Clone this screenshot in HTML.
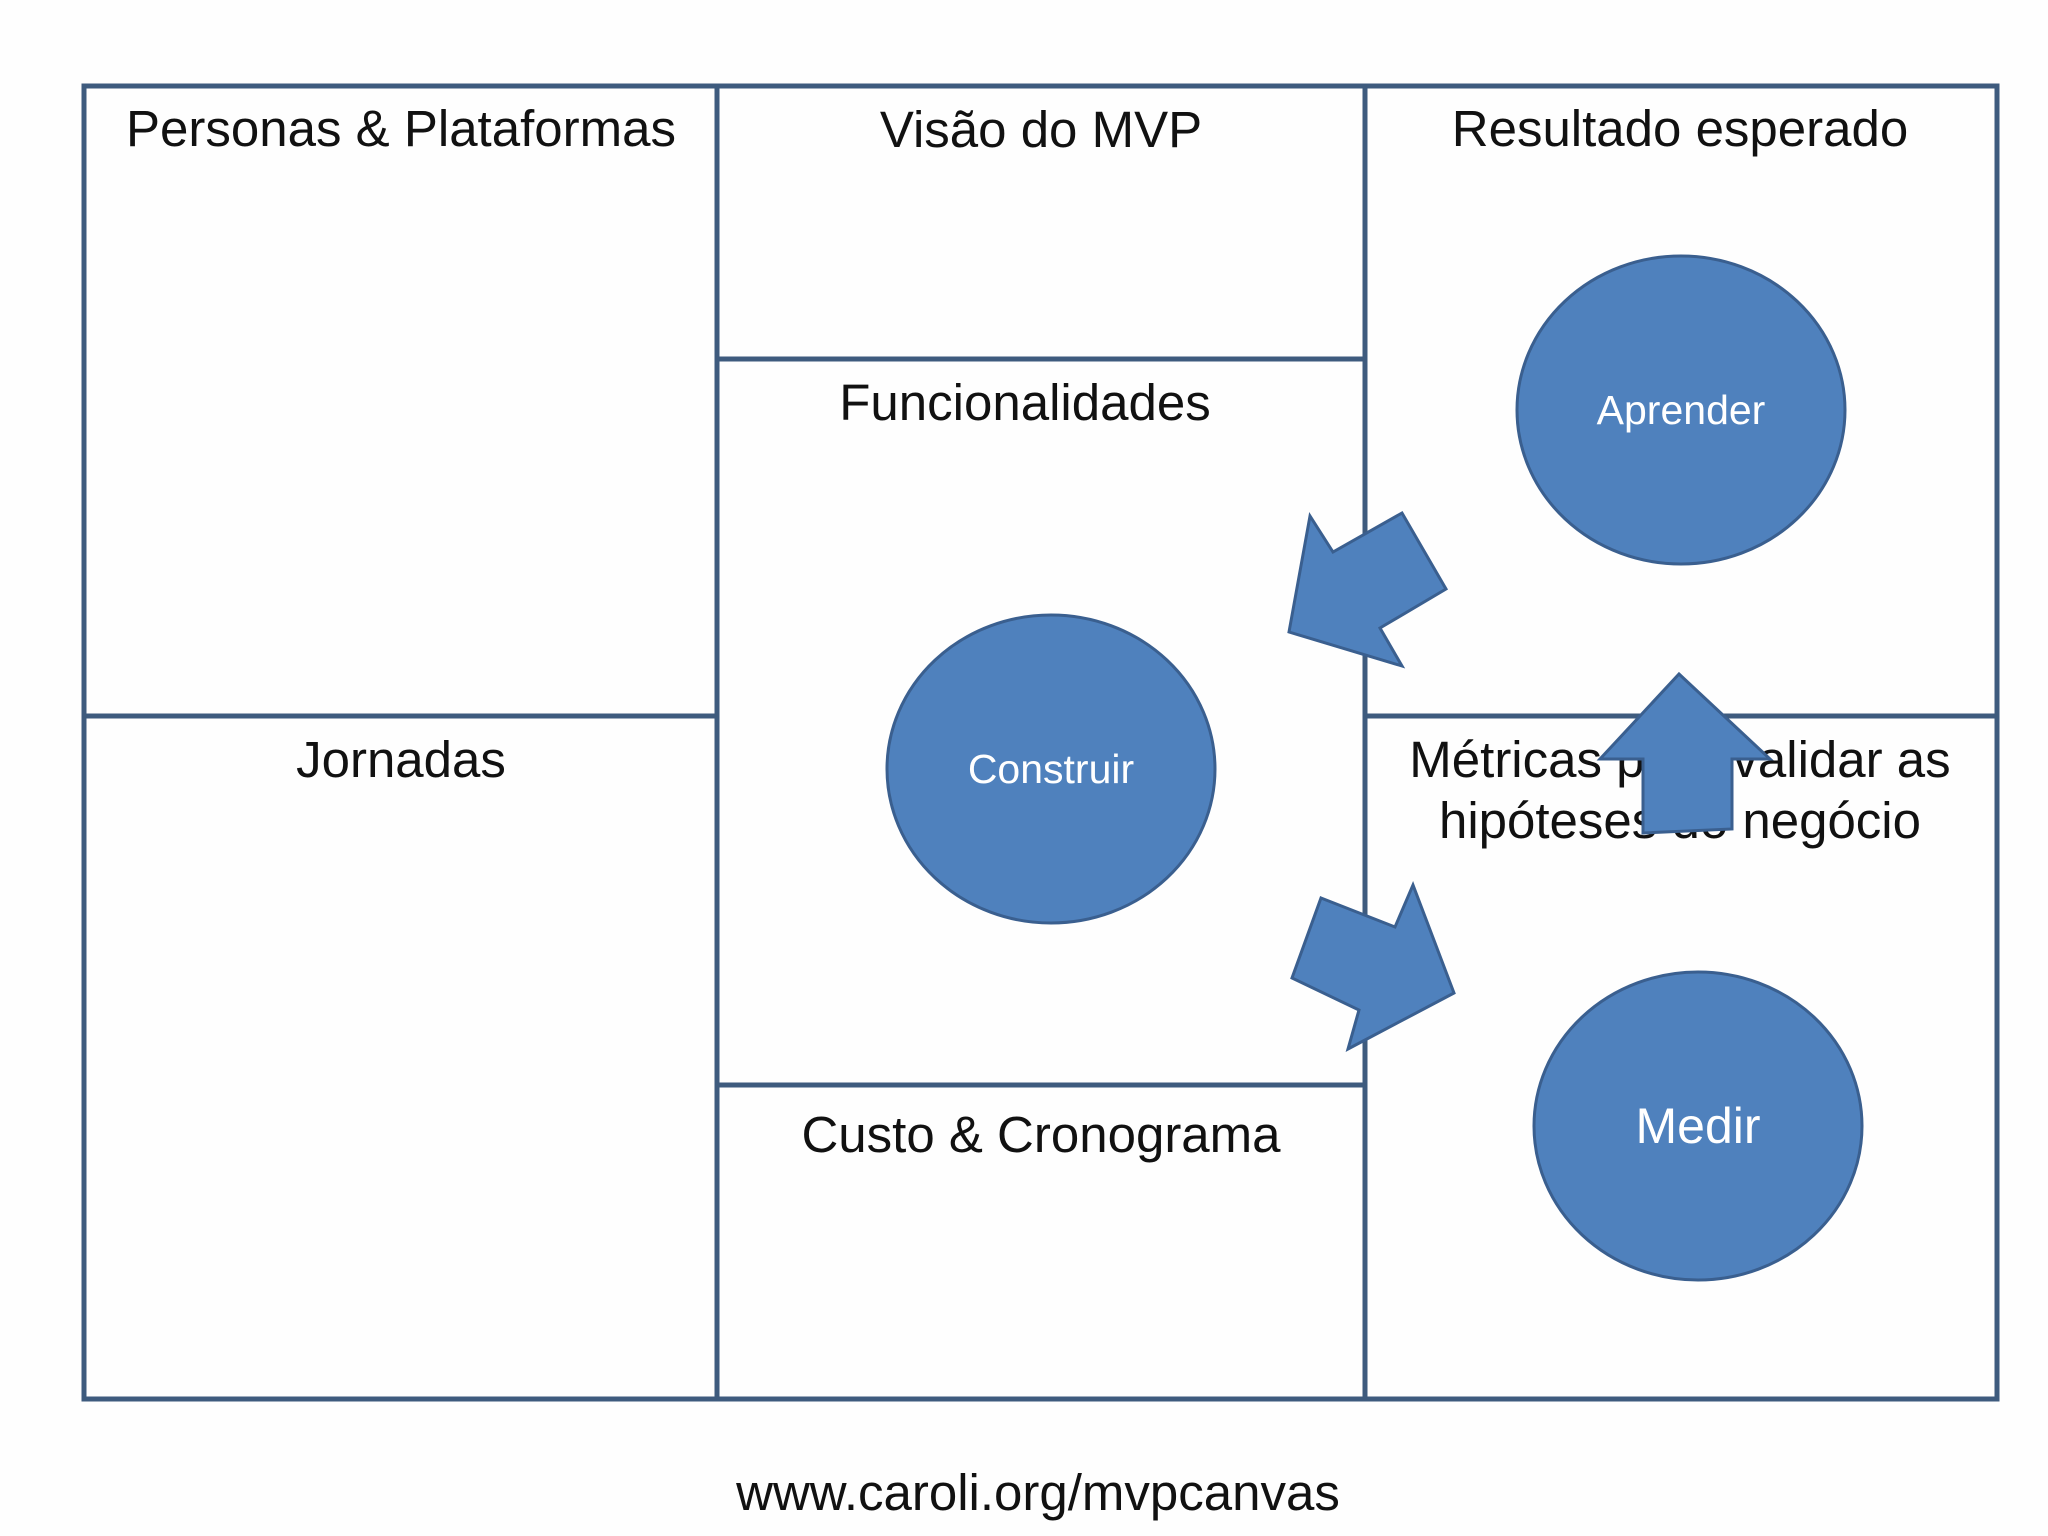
<!DOCTYPE html>
<html><head><meta charset="utf-8"><style>
html,body{margin:0;padding:0;background:#fff;}
svg{display:block;}
</style></head><body>
<svg width="2048" height="1536" viewBox="0 0 2048 1536" xmlns="http://www.w3.org/2000/svg">
<rect width="2048" height="1536" fill="#fefefe"/>
<g stroke="#3e5b7e" stroke-width="5" fill="none">
<rect x="84" y="86" width="1913" height="1313"/>
<line x1="717" y1="86" x2="717" y2="1399"/>
<line x1="1365" y1="86" x2="1365" y2="1399"/>
<line x1="84" y1="716" x2="717" y2="716"/>
<line x1="717" y1="359" x2="1365" y2="359"/>
<line x1="717" y1="1085" x2="1365" y2="1085"/>
<line x1="1365" y1="716" x2="1997" y2="716"/>
</g>
<g font-family="Liberation Sans, Arial, sans-serif" font-size="51" fill="#111" text-anchor="middle">
<text x="401" y="146">Personas &amp; Plataformas</text>
<text x="1041" y="147">Visão do MVP</text>
<text x="1680" y="146">Resultado esperado</text>
<text x="1025" y="420">Funcionalidades</text>
<text x="401" y="777">Jornadas</text>
<text x="1680" y="777">Métricas para validar as</text>
<text x="1680" y="838">hipóteses do negócio</text>
<text x="1041" y="1152">Custo &amp; Cronograma</text>
<text x="1038" y="1510">www.caroli.org/mvpcanvas</text>
</g>
<g fill="#4f81bd" stroke="#3a5f8f" stroke-width="3" stroke-linejoin="miter">
<ellipse cx="1681" cy="410" rx="164" ry="154"/>
<ellipse cx="1051" cy="769" rx="164" ry="154"/>
<ellipse cx="1698" cy="1126" rx="164" ry="154"/>
<polygon points="1289,632 1310,516 1333,552 1402,513 1446,589 1380,628 1402,666"/>
<polygon points="1679,674 1770,759 1732,759 1732,829 1643,833 1643,759 1600,759"/>
<polygon points="1321,898 1395,927 1413,885 1454,993 1348,1049 1359,1010 1292,978"/>
</g>
<g font-family="Liberation Sans, DejaVu Sans, sans-serif" fill="#fff" text-anchor="middle">
<text x="1681" y="424" font-size="41">Aprender</text>
<text x="1051" y="783" font-size="41">Construir</text>
<text x="1698" y="1143" font-size="50">Medir</text>
</g>
</svg>
</body></html>
